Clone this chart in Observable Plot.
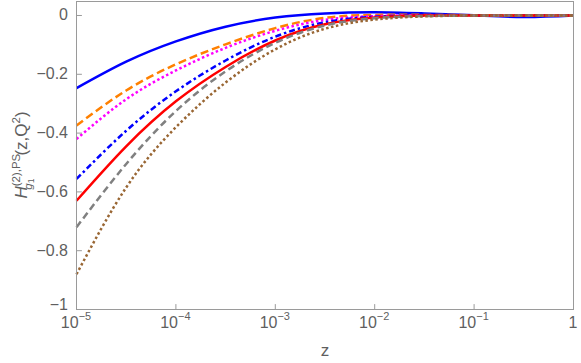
<!DOCTYPE html>
<html>
<head>
<meta charset="utf-8">
<script src="https://cdn.jsdelivr.net/npm/d3@7"></script>
<script src="https://cdn.jsdelivr.net/npm/@observablehq/plot@0.6"></script>
<style>
  html, body { margin: 0; padding: 0; background: #fff; }
  #chart svg { display: block; }
</style>
</head>
<body>
<div id="chart"></div>
<script>
const zValues = [1e-5, 3.162e-5, 1e-4, 3.162e-4, 1e-3, 3.162e-3, 1e-2, 3.162e-2, 1e-1, 3.162e-1, 1];

const blueSolid   = [-0.247, -0.157, -0.088, -0.038, -0.007, 0.007, 0.011, 0.007, 0.001, -0.005, 0.000];
const orangeDash  = [-0.374, -0.255, -0.166, -0.098, -0.043, -0.008, 0.002, 0.002, 0.001, 0.000, 0.000];
const magentaDot  = [-0.420, -0.285, -0.187, -0.110, -0.052, -0.015, -0.002, 0.001, 0.001, 0.000, 0.000];
const blueDotDash = [-0.556, -0.392, -0.258, -0.153, -0.072, -0.023, -0.004, 0.000, 0.000, 0.000, 0.000];
const redSolid    = [-0.630, -0.445, -0.292, -0.175, -0.085, -0.030, -0.007, 0.000, 0.000, 0.000, 0.000];
const grayDash    = [-0.720, -0.505, -0.325, -0.190, -0.093, -0.034, -0.009, -0.002, 0.000, 0.000, 0.000];
const brownDot    = [-0.880, -0.585, -0.380, -0.228, -0.115, -0.045, -0.014, -0.003, 0.000, 0.000, 0.000];

const xTicks = [1e-5, 1e-4, 1e-3, 1e-2, 1e-1, 1];
const xTickBase = ["10", "10", "10", "10", "10", "1"];
const xTickExp = ["−5", "−4", "−3", "−2", "−1", ""];
const yTicks = [0, -0.2, -0.4, -0.6, -0.8, -1];
const yTickLabels = ["0", "−0.2", "−0.4", "−0.6", "−0.8", "−1"];

const seriesDefs = [
  {values: blueSolid,   color: "#0000ff", dash: null},
  {values: orangeDash,  color: "#ff8000", dash: "8,4"},
  {values: magentaDot,  color: "#ff00ff", dash: "2.5,2.5"},
  {values: blueDotDash, color: "#0000ff", dash: "6,3,2.5,3"},
  {values: redSolid,    color: "#ff0000", dash: null},
  {values: grayDash,    color: "#808080", dash: "7,4"},
  {values: brownDot,    color: "#996633", dash: "2.5,2.5"}
];

const axisColor = "#9a9a9a";
const textColor = "#5f5f5f";
const font = "Liberation Sans, Arial, sans-serif";

const lineMarks = seriesDefs.map(s =>
  Plot.line(zValues.map((z, i) => ({z, v: s.values[i]})), {
    x: "z", y: "v", stroke: s.color, strokeWidth: 2.5,
    strokeDasharray: s.dash, strokeLinecap: "butt", curve: "natural"
  })
);

const tickShape = {draw(context, l) { context.moveTo(0, 0); context.lineTo(0, -l); }};

const chart = Plot.plot({
  width: 581,
  height: 363,
  marginLeft: 76,
  marginRight: 8,
  marginTop: 1,
  marginBottom: 54,
  style: {fontFamily: font, background: "#fff"},
  x: {type: "log", domain: [1e-5, 1], axis: null},
  y: {domain: [-1, 0.0476], axis: null},
  marks: [
    ...lineMarks,
    Plot.frame({stroke: axisColor, strokeWidth: 1}),
    Plot.vector(xTicks, {x: d => d, frameAnchor: "bottom", length: 5, rotate: 0, anchor: "start",
      shape: tickShape, stroke: axisColor, strokeWidth: 1}),
    Plot.vector(yTicks, {y: d => d, frameAnchor: "left", length: 5, rotate: 90, anchor: "start",
      shape: tickShape, stroke: axisColor, strokeWidth: 1})
  ]
});

document.getElementById("chart").appendChild(chart);

const svg = d3.select(chart);
const sx = chart.scale("x");
const sy = chart.scale("y");

// x tick labels with real superscripts
xTicks.forEach((t, i) => {
  const px = sx.apply(t);
  const txt = svg.append("text")
    .attr("x", px).attr("y", 328)
    .attr("text-anchor", "middle")
    .attr("fill", textColor).attr("font-size", 16).attr("font-family", font);
  txt.append("tspan").text(xTickBase[i]);
  if (xTickExp[i]) {
    txt.append("tspan").attr("font-size", 11).attr("dy", -8).text(xTickExp[i]);
  }
});

// y tick labels
yTicks.forEach((t, i) => {
  const py = sy.apply(t);
  svg.append("text")
    .attr("x", 68).attr("y", py + (t === -1 ? 1 : 5.5))
    .attr("text-anchor", "end")
    .attr("fill", textColor).attr("font-size", 16).attr("font-family", font)
    .text(yTickLabels[i]);
});

// Axis titles
svg.append("text")
  .attr("x", 325).attr("y", 356)
  .attr("text-anchor", "middle")
  .attr("fill", textColor).attr("font-size", 17).attr("font-family", font)
  .text("z");

const yl = svg.append("text")
  .attr("transform", "translate(27,155) rotate(-90)")
  .attr("text-anchor", "middle")
  .attr("fill", textColor).attr("font-size", 17).attr("font-family", font);
yl.append("tspan").attr("font-style", "italic").text("H");
yl.append("tspan").attr("font-size", 11.5).attr("dy", -7).text("(2),PS");
yl.append("tspan").attr("font-size", 11.5).attr("font-style", "italic").attr("dx", -36).attr("dy", 12).text("g");
yl.append("tspan").attr("font-size", 8.5).attr("dy", 2).text("1");
yl.append("tspan").attr("dx", 23).attr("dy", -7).text("(z,Q");
yl.append("tspan").attr("font-size", 11.5).attr("dy", -7).text("2");
yl.append("tspan").attr("dy", 7).text(")");
</script>
</body>
</html>
